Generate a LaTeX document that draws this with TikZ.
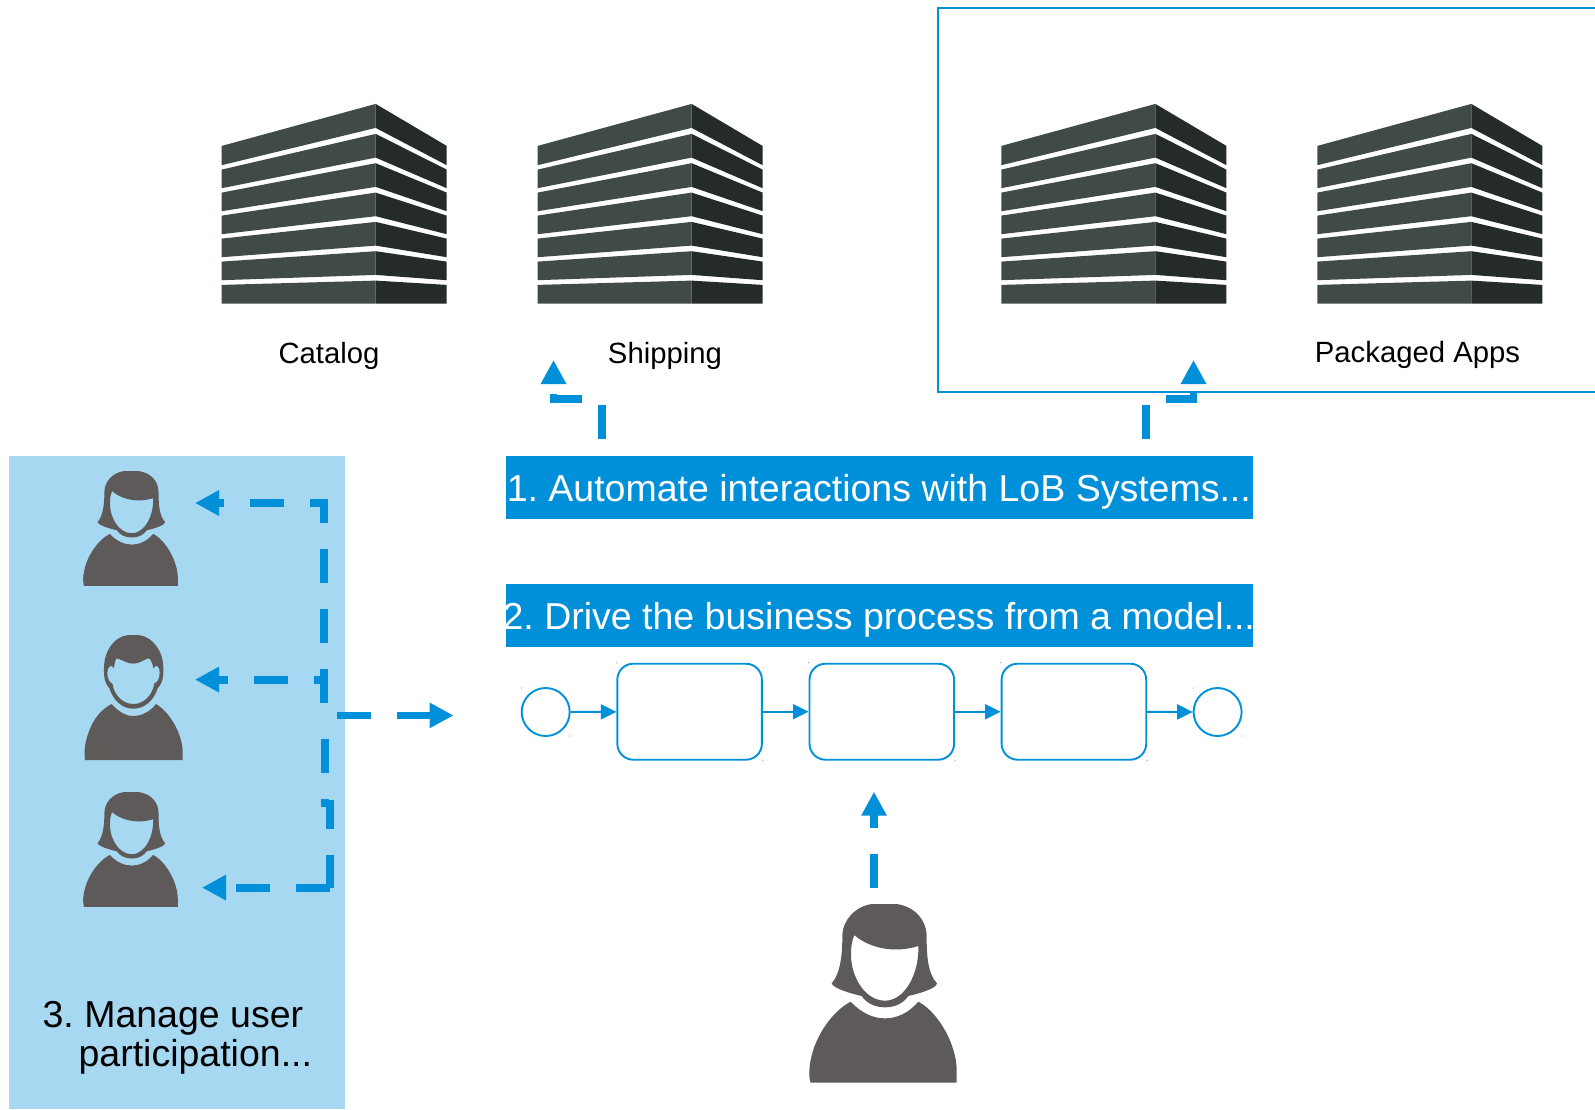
\documentclass[tikz,border=0pt]{standalone}
\usepackage{fontspec}
\setmainfont{Liberation Sans}
\usetikzlibrary{arrows.meta}
\frenchspacing
\definecolor{flowblue}{HTML}{0090DA}
\definecolor{laneblue}{HTML}{A6D8F2}
\definecolor{faceleft}{HTML}{404B47}
\definecolor{faceright}{HTML}{242B28}
\definecolor{persongray}{HTML}{5E5A5A}
\tikzset{
	pics/building/.style={code={
		\foreach \ltop/\lbot/\mtop/\mbot in {42/61.3/0/24,65.7/84.3/30/53.7,88.7/107.3/59.3/83,111.7/130.3/88.7/112.3,134.7/153.3/118/141.7,157.7/176.3/147.3/171,181/199.7/176.7/199.7}{
			\fill[faceleft] (0,\ltop) -- (154,\mtop) -- (154,\mbot) -- (0,\lbot) -- cycle;
			\fill[faceright] (154,\mtop) -- (225,\ltop) -- (225,\lbot) -- (154,\mbot) -- cycle;
		}
	}},
	pics/woman/.style={code={
		\fill[persongray,even odd rule] (245,42) -- (320,42) .. controls (375,50) and (410,90) .. (410,140) .. controls (410,190) and (412,250) .. (441,280) .. controls (440,295) and (390,310) .. (355,318) .. controls (340,340) and (315,352) .. (285,352) .. controls (255,352) and (230,340) .. (215,318) .. controls (180,310) and (130,295) .. (125,280) .. controls (152,250) and (157,190) .. (157,140) .. controls (157,90) and (195,50) .. (245,42) -- cycle
			(193,135) .. controls (225,165) and (300,195) .. (385,168) .. controls (388,250) and (345,332) .. (285,332) .. controls (225,332) and (183,260) .. (183,195) .. controls (183,170) and (186,150) .. (193,135) -- cycle;
		\fill[persongray] (182,335) .. controls (215,370) and (250,385) .. (285,385) .. controls (320,385) and (355,370) .. (385,335) .. controls (450,370) and (500,470) .. (500,540) -- (500,578) -- (62,578) .. controls (55,560) and (58,530) .. (62,510) .. controls (75,440) and (125,365) .. (182,335) -- cycle;
	}},
	pics/man/.style={code={
		\fill[persongray,even odd rule] (385,555) -- (415,555) .. controls (460,560) and (490,605) .. (490,655) .. controls (491,680) and (488,700) .. (473,715) .. controls (462,750) and (435,776) .. (400,776) .. controls (365,776) and (340,750) .. (328,715) .. controls (314,700) and (311,680) .. (312,655) .. controls (312,605) and (340,560) .. (385,555) -- cycle
			(350,625) .. controls (370,630) and (380,641) .. (400,641) .. controls (420,641) and (430,628) .. (447,625) .. controls (455,630) and (458,645) .. (460,655) .. controls (468,640) and (480,650) .. (479,668) .. controls (479,685) and (472,698) .. (463,700) .. controls (458,735) and (432,762) .. (400,762) .. controls (368,762) and (342,735) .. (337,700) .. controls (328,698) and (322,685) .. (322,668) .. controls (322,650) and (335,640) .. (342,655) .. controls (343,645) and (345,630) .. (350,625) -- cycle;
		\fill[persongray] (335,762) .. controls (355,785) and (378,798) .. (400,798) .. controls (425,798) and (450,785) .. (468,762) .. controls (515,790) and (548,860) .. (548,905) -- (548,930) -- (255,930) .. controls (250,900) and (258,860) .. (275,825) .. controls (290,795) and (310,775) .. (335,762) -- cycle;
	}},
	biglabel/.style={font=\fontsize{37.5}{39}\selectfont},
	applabel/.style={font=\fontsize{29.3}{32}\selectfont,inner sep=0pt},
	stepbar/.style={fill=flowblue,inner sep=0pt,minimum width=747.4pt,minimum height=63.6pt},
	steptext/.style={biglabel,text=white,inner sep=0pt},
	flowtask/.style={draw=flowblue,line width=1.9pt,rounded corners=16pt,inner sep=0pt,minimum width=144.6pt,minimum height=96pt},
	flowevent/.style={draw=flowblue,line width=1.9pt,circle,inner sep=0pt,minimum size=48pt},
	flowarrow/.style={draw=flowblue,line width=1.9pt,-{Triangle[length=15.5pt,width=15pt]}},
	dasharrow/.style={draw=flowblue,line width=7.8pt,dash pattern=on 34pt off 26pt,-{Triangle[length=24pt,width=24pt]}}
}
\begin{document}
\begin{tikzpicture}[
	x=1pt,
	y=-1pt
	]
	\useasboundingbox (0,0) rectangle (1595,1109);
	\fill[laneblue] (9,456) rectangle (345,1109);
	\draw[flowblue,line width=2pt] (1595,7.5) -- (937.5,7.5) -- (937.5,391.5) -- (1595,391.5);
	\foreach \bx in {221.7,537.6,1001.4,1317.3}
		\pic at (\bx,103.9) {building};
	\node[applabel] (catalog) at (329,356) {Catalog};
	\node[applabel] (shipping) at (665,356) {Shipping};
	\node[applabel] (packaged) at (1417.5,355) {Packaged Apps};
	\node[stepbar] (automate) at (879.3,487.4) {};
	\node[stepbar] (drive) at (879.3,615.6) {};
	\node[steptext] (automatetext) at (878.8,492) {1. Automate interactions with LoB Systems...};
	\node[steptext] (drivetext) at (878.8,620) {2. Drive the business process from a model...};
	\node[biglabel,align=left,inner sep=0pt,anchor=north west] (manage) at (42.4,1001) {3. Manage user\\\hspace*{36pt}participation...};
	\node[flowevent] (start) at (545.7,712) {};
	\node[flowtask] (taska) at (689.6,711.7) {};
	\node[flowtask] (taskb) at (881.8,711.7) {};
	\node[flowtask] (taskc) at (1073.9,711.7) {};
	\node[flowevent] (finish) at (1217.6,712) {};
	\draw[flowarrow] (start) -- (taska);
	\draw[flowarrow] (taska) -- (taskb);
	\draw[flowarrow] (taskb) -- (taskc);
	\draw[flowarrow] (taskc) -- (finish);
	\foreach \n in {taska,taskb,taskc}{
		\fill[flowblue!70] (\n.north west) circle (0.6pt);
		\fill[flowblue!70] (\n.south east) circle (0.6pt);
	}
	\foreach \n in {start,finish}{
		\fill[flowblue!70] (\n.center) ++(-24,-24) circle (0.6pt);
		\fill[flowblue!70] (\n.center) ++(24,24) circle (0.6pt);
	}
	\pic[scale=0.214] at (70.8,462.2) {woman};
	\pic[scale=1/3] at (0,450) {man};
	\pic[scale=0.214] at (70.8,783.2) {woman};
	\pic[scale=1/3] at (790,890) {woman};
	\coordinate (cataloggo) at (601.8,439.3);
	\coordinate (appsgo) at (1145.8,439.3);
	\coordinate (laneup) at (324.2,703);
	\coordinate (lanedown) at (324.9,739.3);
	\coordinate (lanecorner) at (329.6,887.6);
	\coordinate (laneout) at (337.3,715.4);
	\coordinate (usergo) at (874,888);
	\coordinate (processin) at (453.5,715.4);
	\coordinate (womanatip) at (195,503);
	\coordinate (mantip) at (195,679.6);
	\coordinate (womanbtip) at (202,887.6);
	\begin{scope}[dasharrow]
		\draw (cataloggo) -- (601.8,399.3) -- (553.5,399.3) -- (553.5,360);
		\draw (appsgo) -- (1145.8,399.3) -- (1193.5,399.3) -- (1193.5,360);
		\draw (laneup) -- (324.2,503) -- (womanatip);
		\draw (laneup) -- (324.2,679.6) -- (mantip);
		\draw[-] (lanedown) -- (324.9,803.5) -- (329.6,803.5) -- (lanecorner);
		\draw (lanecorner) -- (womanbtip);
		\draw (laneout) -- (processin);
		\draw (usergo) -- (874,791.7);
	\end{scope}
\end{tikzpicture}
\end{document}
